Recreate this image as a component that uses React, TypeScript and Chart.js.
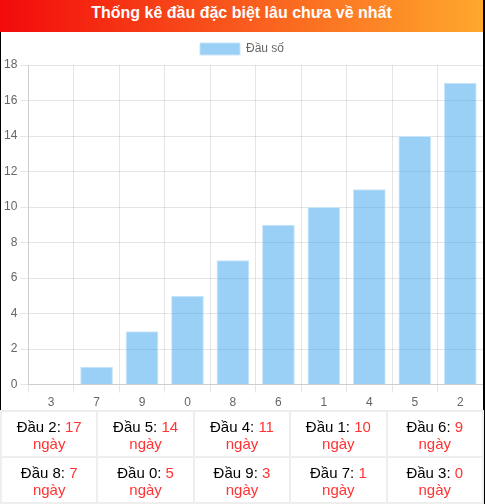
import React, { useEffect, useRef } from "react";
import { Chart, registerables } from "chart.js";

Chart.register(...registerables);

const TITLE = "Thống kê đầu đặc biệt lâu chưa về nhất";
const SERIES_LABEL = "Đầu số";
const categories = ["3", "7", "9", "0", "8", "6", "1", "4", "5", "2"];
const values = [0, 1, 3, 5, 7, 9, 10, 11, 14, 17];
const yMax = 18;
const yStep = 2;
const tableHeads = ["2", "5", "4", "1", "6", "8", "0", "9", "7", "3"];
const tableDays = [17, 14, 11, 10, 9, 7, 5, 3, 1, 0];

export default function App() {
  const canvasRef = useRef<HTMLCanvasElement | null>(null);

  useEffect(() => {
    document.body.style.margin = "0";
    const ctx = canvasRef.current!.getContext("2d")!;
    const chart = new Chart(ctx, {
      type: "bar",
      data: {
        labels: categories,
        datasets: [
          {
            label: SERIES_LABEL,
            data: values,
            backgroundColor: "rgba(54,162,235,0.5)",
            borderColor: "rgba(200,228,250,0.9)",
            borderWidth: 1,
          },
        ],
      },
      options: {
        animation: false,
        responsive: false,
        maintainAspectRatio: false,
        layout: { padding: { left: 0, right: 0, top: 1, bottom: 0 } },
        plugins: {
          legend: {
            display: true,
            labels: {
              boxWidth: 40,
              boxHeight: 12,
              color: "#666",
              font: { family: "Arial, 'Liberation Sans', sans-serif", size: 12 },
            },
          },
          tooltip: { enabled: false },
        },
        scales: {
          x: {
            grid: { color: "rgba(0,0,0,0.1)", tickLength: 8 },
            ticks: {
              color: "#666",
              font: { family: "Arial, 'Liberation Sans', sans-serif", size: 12 },
            },
          },
          y: {
            min: 0,
            max: yMax,
            grid: { color: "rgba(0,0,0,0.1)", tickLength: 8 },
            ticks: {
              stepSize: yStep,
              color: "#666",
              font: { family: "Arial, 'Liberation Sans', sans-serif", size: 12 },
            },
          },
        },
      },
    });
    return () => chart.destroy();
  }, []);

  const cellStyle: React.CSSProperties = {
    width: "20%",
    border: "2px solid #eee",
    textAlign: "center",
    fontFamily: "Arial, 'Liberation Sans', sans-serif",
    fontSize: 15,
    lineHeight: "17px",
    padding: "6px 0 4px 0",
    height: 34,
    background: "#fff",
  };

  const rows = [0, 1].map((r) => (
    <tr key={r}>
      {tableHeads.slice(r * 5, r * 5 + 5).map((h, i) => (
        <td key={i} style={cellStyle}>
          <span style={{ color: "#000" }}>Đầu {h}: </span>
          <span style={{ color: "#f33" }}>{tableDays[r * 5 + i]}</span>
          <br />
          <span style={{ color: "#f33" }}>ngày</span>
        </td>
      ))}
    </tr>
  ));

  return (
    <div style={{ position: "relative", width: 485, height: 504, boxSizing: "border-box", borderLeft: "1px solid #000", borderRight: "2px solid #000", borderBottom: "2px solid #000", background: "#fff" }}>
      <div
        style={{
          position: "absolute",
          left: -1,
          top: 0,
          width: 483,
          height: 32,
          background: "linear-gradient(to right, #f20a0a, #f84a1a 40%, #ffa82c)",
          color: "#fff",
          fontFamily: "Arial, 'Liberation Sans', sans-serif",
          fontWeight: "bold",
          fontSize: 16,
          lineHeight: "26px",
          textAlign: "center",
        }}
      >
        {TITLE}
      </div>
      <div style={{ position: "absolute", left: 0, top: 32, width: 482, height: 381 }}>
        <canvas ref={canvasRef} width={482} height={381} style={{ display: "block", width: 482, height: 381 }} />
      </div>
      <table
        style={{
          position: "absolute",
          left: -1,
          top: 410,
          width: 484,
          height: 93,
          borderCollapse: "collapse",
          tableLayout: "fixed",
        }}
      >
        <tbody>{rows}</tbody>
      </table>
    </div>
  );
}
